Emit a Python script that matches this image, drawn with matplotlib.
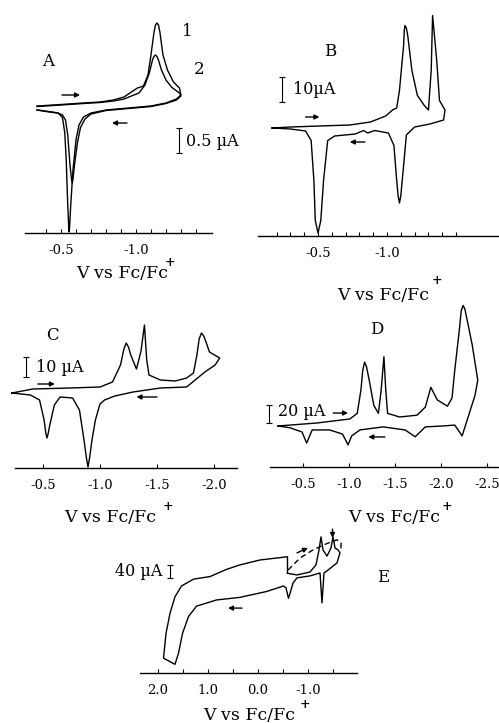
import matplotlib
matplotlib.use("Agg")
import matplotlib.pyplot as plt

plt.rcParams['font.family'] = ['DejaVu Serif']

W, H = 499, 723

# ---- cyclic voltammograms: potential (V vs Fc/Fc+) and current (uA) ----
# panel A, scans 1 and 2
A1_V = [-0.34, -0.45, -0.55, -0.65, -0.76, -0.85, -0.92, -0.97, -1.01, -1.05, -1.08, -1.10, -1.12,
        -1.13, -1.14, -1.15, -1.16, -1.18, -1.21, -1.25, -1.29, -1.30, -1.27, -1.20, -1.10, -0.95,
        -0.80, -0.70, -0.65, -0.62, -0.60, -0.58, -0.565, -0.558, -0.555, -0.551, -0.545, -0.535,
        -0.525, -0.51, -0.48, -0.42, -0.34]
A1_I = [0.08, 0.10, 0.12, 0.14, 0.16, 0.20, 0.26, 0.36, 0.44, 0.48, 0.70, 1.10, 1.55,
        1.70, 1.74, 1.70, 1.55, 1.10, 0.80, 0.56, 0.44, 0.30, 0.22, 0.14, 0.08, 0.04,
        0.00, -0.06, -0.14, -0.30, -0.60, -1.20, -1.90, -2.30, -2.44, -2.30, -1.90, -1.00,
        -0.45, -0.15, -0.06, -0.04, 0.0]
A2_V = [-0.34, -0.45, -0.55, -0.65, -0.76, -0.85, -0.92, -0.97, -1.02, -1.06, -1.09, -1.11, -1.12,
        -1.13, -1.14, -1.15, -1.17, -1.20, -1.24, -1.29, -1.30, -1.27, -1.20, -1.10, -0.95, -0.80,
        -0.70, -0.66, -0.63, -0.61, -0.59, -0.58, -0.575, -0.57, -0.56, -0.545, -0.53, -0.51,
        -0.48, -0.42, -0.34]
A2_I = [0.07, 0.09, 0.11, 0.13, 0.15, 0.18, 0.22, 0.28, 0.34, 0.50, 0.75, 1.00, 1.07,
        1.10, 1.07, 1.00, 0.80, 0.60, 0.45, 0.34, 0.28, 0.20, 0.13, 0.07, 0.03, -0.01,
        -0.08, -0.18, -0.35, -0.65, -1.10, -1.38, -1.46, -1.38, -1.10, -0.50, -0.20, -0.10,
        -0.06, -0.03, 0.0]

B_V = [-0.167, -0.30, -0.51, -0.73, -0.88, -0.99, -1.04, -1.07, -1.09, -1.12, -1.125, -1.13, -1.14,
       -1.15, -1.18, -1.22, -1.27, -1.30, -1.32, -1.33, -1.36, -1.38, -1.42,
       -1.41, -1.31, -1.20, -1.14, -1.12, -1.10, -1.09, -1.08, -1.07, -1.05, -1.01, -0.91, -0.86,
       -0.83, -0.77, -0.62, -0.57, -0.54, -0.52, -0.50, -0.48, -0.47, -0.45, -0.41, -0.30, -0.167]
B_I = [0, 0.4, 0.8, 1.2, 2.4, 4.8, 7.2, 8.0, 15, 33, 39, 41, 40,
       37, 23, 13, 9, 7.2, 23, 45, 27, 11, 7.2,
       3.2, 1.6, 0.4, -2.8, -15, -27, -30, -27, -21, -7, -2, -1, -2,
       -1, -2.4, -3.2, -5, -21, -37, -42, -37, -21, -5, -1.2, -0.4, 0]

C_V = [-0.228, -0.41, -0.74, -1.00, -1.11, -1.18, -1.21, -1.23, -1.25, -1.27, -1.32, -1.36, -1.39,
       -1.41, -1.43, -1.53, -1.66, -1.76, -1.82, -1.85, -1.87, -1.89, -1.91, -1.93, -1.96, -2.05,
       -2.01, -1.92, -1.76, -1.53, -1.29, -1.13, -1.04, -1.00, -0.96, -0.93, -0.91, -0.895, -0.88,
       -0.86, -0.82, -0.76, -0.65, -0.60, -0.56, -0.545, -0.535, -0.525, -0.51, -0.47, -0.39, -0.228]
C_I = [0, 2, 2.5, 3, 5.5, 14, 22, 25, 23, 19, 12, 21, 34,
       16.5, 9, 6.5, 6, 7.5, 10, 19, 27, 30, 28.5, 25.5, 20.5, 17.5,
       14, 10.5, 3, 2.5, 0.5, -1.5, -3.5, -5.5, -13.5, -23.5, -32, -37, -32,
       -23.5, -8.5, -2.5, -2, -6, -16, -20.5, -22.5, -20, -13.5, -3.5, -1, 0]

D_V = [-0.23, -0.65, -1.01, -1.09, -1.13, -1.15, -1.17, -1.19, -1.22, -1.27, -1.32, -1.35, -1.38,
       -1.40, -1.42, -1.55, -1.74, -1.83, -1.89, -1.96, -2.07, -2.12, -2.15, -2.20, -2.22, -2.24,
       -2.26, -2.28, -2.34, -2.40,
       -2.37, -2.23, -2.15, -2.02, -1.83, -1.72, -1.61, -1.37, -1.12, -1.03, -0.99, -0.93, -0.79,
       -0.60, -0.54, -0.49, -0.36, -0.23]
D_I = [0, 3.3, 7.8, 14, 40, 62, 71, 66, 51, 23, 14, 40, 77,
       40, 14, 10, 12, 21, 43, 29, 22, 31, 62, 107, 128, 134,
       130, 120, 90, 51,
       34, -11, 1, 0, -1, -12, -4.4, -1, -4.4, -11, -21, -9, -4.4,
       -4.4, -19, -6.7, -2, 0]

E_V = [-0.59, -0.78, -1.04, -1.16, -1.22, -1.26, -1.30, -1.38, -1.46, -1.50, -1.54, -1.60, -1.64,
       -1.58, -1.40, -1.32, -1.28, -1.24, -1.04, -0.78, -0.70, -0.65, -0.61, -0.56, -0.51,
       -0.17, 0.36, 0.83, 1.23, 1.39, 1.51, 1.59, 1.66, 1.89, 1.84, 1.76, 1.66, 1.53, 1.29,
       0.96, 0.63, 0.36, -0.04, -0.59, -0.59]
E_I = [-41, -46, -37, -15, 31, 71, 31, 12, 37, 71, 37, 31, 22,
       -9, -31, -40, -132, -40, -49, -55, -71, -98, -118, -86, -80,
       -97, -115, -123, -142, -174, -226, -287, -321, -302, -226, -164, -113, -80, -59,
       -51, -29, -15, 0, 10, -41]
E_DASH_V = [-0.60, -0.84, -1.10, -1.40, -1.58, -1.66, -1.66]
E_DASH_I = [-31, 6, 31, 52, 62, 52, 25]

# scale bars (uA)
SCALE_A = 0.5
SCALE_B = 10
SCALE_C = 10
SCALE_D = 20
SCALE_E = 40

TICKS_AB = [-0.5, -1.0]
TICKS_CD = [-0.5, -1.0, -1.5, -2.0, -2.5]
TICKS_E = [2.0, 1.0, 0.0, -1.0]

fig = plt.figure(figsize=(W / 100, H / 100), dpi=100)
fig.patch.set_facecolor('white')

LW = 1.0


def panel(l, r, t, b, xlim, ylim, bounds):
    ax = fig.add_axes([l / W, 1 - b / H, (r - l) / W, (b - t) / H])
    ax.set_xlim(*xlim)
    ax.set_ylim(*ylim)
    ax.patch.set_alpha(0)
    for s in ['left', 'top', 'right']:
        ax.spines[s].set_visible(False)
    ax.spines['bottom'].set_bounds(*bounds)
    ax.spines['bottom'].set_linewidth(1.0)
    ax.set_yticks([])
    ax.tick_params(axis='x', which='both', direction='in', length=3, width=0.8,
                   pad=8, labelsize=9.5)
    return ax


def ftext(x, y, s, **kw):
    kw.setdefault('fontsize', 11.5)
    kw.setdefault('ha', 'center')
    kw.setdefault('va', 'center')
    fig.text(x / W, 1 - y / H, s, **kw)


def xlabel(x, y, px, py):
    ftext(x, y, 'V vs Fc/Fc', fontsize=12.5)
    ftext(px, py, '+', fontsize=9, fontweight='bold')


def arrow(ax, tail, head, ls='-'):
    ax.annotate('', xy=head, xytext=tail,
                arrowprops=dict(arrowstyle='-|>', lw=LW, color='k', ls=ls,
                                mutation_scale=7, shrinkA=0, shrinkB=0))


def scalebar(ax, v, i0, size):
    ax.plot([v, v], [i0, i0 + size], color='k', lw=0.8, marker='_',
            markersize=4, markeredgewidth=0.8, clip_on=False)


def trace(ax, v, i, **kw):
    ax.plot(v, i, color='k', lw=LW, solid_joinstyle='round',
            dash_joinstyle='round', clip_on=False, **kw)


# ---- A ----
axA = panel(25, 212, 10, 233, (-0.26, -1.507), (-2.46, 2.0), (-0.26, -1.507))
axA.set_xticks(TICKS_AB)
axA.set_xticklabels(['-0.5', '-1.0'])
axA.set_xticks([-0.4 - 0.1 * k for k in range(11)], minor=True)
trace(axA, A1_V, A1_I)
trace(axA, A2_V, A2_I)
arrow(axA, (-0.507, 0.3), (-0.627, 0.3))
arrow(axA, (-0.94, -0.26), (-0.84, -0.26))
scalebar(axA, -1.287, -0.86, SCALE_A)
ftext(48, 62, 'A', fontsize=12)
ftext(187, 32, '1', fontsize=12)
ftext(199, 70, '2', fontsize=12)
ftext(186, 141, '0.5 µA', ha='left')
xlabel(122, 273, 170, 262)

# ---- B ----
axB = panel(258, 498, 5, 236, (-0.065, -1.804), (-43.2, 49.2), (-0.065, -1.804))
axB.set_xticks(TICKS_AB)
axB.set_xticklabels(['-0.5', '-1.0'])
axB.set_xticks([-0.2 - 0.1 * k for k in range(14)], minor=True)
trace(axB, B_V, B_I)
arrow(axB, (-0.41, 4.4), (-0.51, 4.4))
arrow(axB, (-0.84, -5.6), (-0.73, -5.6))
scalebar(axB, -0.24, 10.4, SCALE_B)
ftext(330, 52, 'B', fontsize=12)
ftext(293, 90, '10µA', ha='left')
xlabel(383, 295, 437, 281)

# ---- C ----
axC = panel(10, 240, 300, 468, (-0.211, -2.228), (-37.5, 46.5), (-0.254, -2.2))
axC.set_xticks(TICKS_CD[:4])
axC.set_xticklabels(['-0.5', '-1.0', '-1.5', '-2.0'])
trace(axC, C_V, C_I)
arrow(axC, (-0.456, 4.5), (-0.605, 4.5))
arrow(axC, (-1.50, -2), (-1.32, -2))
scalebar(axC, -0.35, 8, SCALE_C)
ftext(52, 335, 'C', fontsize=12)
ftext(36, 367, '10 µA', ha='left')
xlabel(110, 518, 168, 507)

# ---- D ----
axD = panel(268, 498, 295, 467, (-0.12, -2.62), (-45.6, 145.6), (-0.14, -2.62))
axD.set_xticks(TICKS_CD)
axD.set_xticklabels(['-0.5', '-1.0', '-1.5', '-2.0', '-2.5'])
trace(axD, D_V, D_I)
arrow(axD, (-0.83, 14.4), (-0.99, 14.4))
arrow(axD, (-1.39, -12.2), (-1.21, -12.2))
scalebar(axD, -0.13, 3.3, SCALE_D)
ftext(377, 330, 'D', fontsize=12)
ftext(278, 412, '20 µA', ha='left')
xlabel(394, 518, 447, 506)

# ---- E ----
axE = panel(140, 357, 520, 673, (2.36, -1.98), (-347.7, 123), (2.36, -1.98))
axE.set_xticks(TICKS_E)
axE.set_xticklabels(['2.0', '1.0', '0.0', '-1.0'])
axE.set_xticks([1.5, 0.5, -0.5, -1.5], minor=True)
trace(axE, E_V, E_I)
trace(axE, E_DASH_V, E_DASH_I, ls=(0, (4, 2.5)))
arrow(axE, (0.32, -148), (0.60, -148))
arrow(axE, (-0.78, 22), (-1.0, 37))
arrow(axE, (-1.49, 95), (-1.49, 68))
scalebar(axE, 1.76, -55, SCALE_E)
ftext(383, 578, 'E', fontsize=12)
ftext(162, 571, '40 µA', ha='right')
xlabel(249, 715, 305, 705)

fig.savefig('out.png', dpi=100, facecolor='white')
